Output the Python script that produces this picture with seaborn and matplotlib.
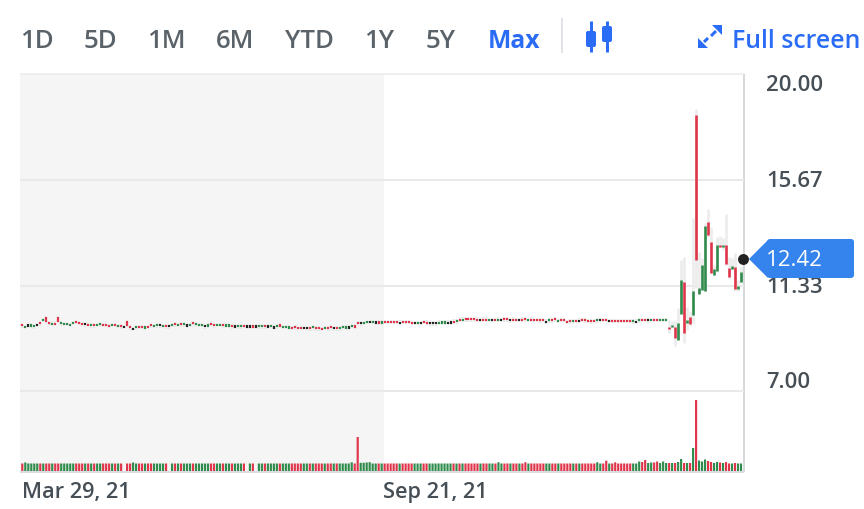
import matplotlib
matplotlib.use("Agg")
import matplotlib.pyplot as plt
from matplotlib.patches import FancyBboxPatch, Polygon
import pandas as pd
import seaborn as sns

range_labels = ["1D", "5D", "1M", "6M", "YTD", "1Y", "5Y", "Max"]
date_labels = ["Mar 29, 21", "Sep 21, 21"]
date_index = [0, 120.7]
y_labels = ["20.00", "15.67", "11.33", "7.00"]
y_values = [20.00, 15.67, 11.33, 7.00]
last_price = 12.42

# body centre of the quiet candles, one row per ten sessions
flat_mid = [
    9.71, 9.64, 9.70, 9.70, 9.67, 9.73, 9.79, 9.93, 9.96, 9.79,
    9.78, 9.78, 9.94, 9.79, 9.77, 9.77, 9.73, 9.81, 9.85, 9.81,
    9.77, 9.75, 9.74, 9.71, 9.71, 9.73, 9.75, 9.73, 9.73, 9.68,
    9.73, 9.73, 9.68, 9.67, 9.64, 9.79, 9.63, 9.56, 9.63, 9.64,
    9.64, 9.62, 9.64, 9.71, 9.68, 9.71, 9.71, 9.68, 9.67, 9.67,
    9.73, 9.75, 9.73, 9.75, 9.75, 9.70, 9.73, 9.79, 9.75, 9.73,
    9.73, 9.67, 9.70, 9.78, 9.71, 9.73, 9.73, 9.71, 9.70, 9.70,
    9.67, 9.66, 9.67, 9.67, 9.68, 9.66, 9.66, 9.66, 9.66, 9.67,
    9.67, 9.67, 9.66, 9.68, 9.62, 9.67, 9.70, 9.64, 9.64, 9.62,
    9.60, 9.63, 9.60, 9.60, 9.60, 9.59, 9.59, 9.63, 9.59, 9.59,
    9.56, 9.60, 9.59, 9.63, 9.59, 9.59, 9.59, 9.63, 9.62, 9.62,
    9.68, 9.66, 9.81, 9.79, 9.81, 9.85, 9.85, 9.85, 9.83, 9.83,
    9.83, 9.85, 9.85, 9.85, 9.85, 9.85, 9.82, 9.85, 9.85, 9.85,
    9.81, 9.81, 9.81, 9.81, 9.85, 9.82, 9.79, 9.79, 9.79, 9.82,
    9.83, 9.83, 9.82, 9.83, 9.86, 9.88, 9.94, 9.94, 9.96, 9.96,
    9.96, 9.96, 9.94, 9.93, 9.94, 9.94, 9.93, 9.92, 9.93, 9.94,
    9.93, 9.96, 9.96, 9.92, 9.94, 9.93, 9.93, 9.94, 9.96, 9.93,
    9.94, 9.93, 9.93, 9.92, 9.93, 9.86, 9.92, 9.92, 9.96, 9.89,
    9.93, 9.93, 9.85, 9.88, 9.88, 9.89, 9.90, 9.93, 9.92, 9.89,
    9.88, 9.89, 9.92, 9.93, 9.93, 9.93, 9.89, 9.89, 9.89, 9.89,
    9.89, 9.89, 9.89, 9.89, 9.88, 9.86, 9.92, 9.93, 9.93, 9.92,
    9.93, 9.93, 9.93, 9.93, 9.93, 9.93,
]
# r = falling, g = rising, k = unchanged
flat_dir = (
    "rgkggkrgrr" "grrgggggrr" "rkrgrggrrr" "grgrkrrkgr" "rgrrggkgrk" "grgrgkgrgg"
    "gkgrrggrgg" "rkggrkkrkg" "grkgkgrggg" "rrrrkkrgrr" "rgrrkrgggk" "grrkggkgkr"
    "grrrrrkrrr" "rkgkrrkkkg" "ggkkrgrgrr" "rrrkrrgkrg" "krrkrrkrrg" "rrrrrkgrrg"
    "rrrrgrkrrr" "rrgkrrkrrr" "rrrrgkgrrk" "grrggg"
)
flat_span = 0.09
flat_tall = {8: 0.20, 12: 0.19, 35: 0.20}

tail_open = [9.66, 9.63, 9.63, 9.11, 10.18, 11.49, 9.82, 10.04, 10.14, 18.35, 11.00, 11.14, 11.10,
             13.94, 13.14, 11.78, 11.94, 12.99, 12.90, 12.99, 12.05, 12.01, 12.09, 11.19, 11.50]
tail_close = [9.56, 9.73, 9.18, 9.80, 11.55, 9.39, 9.93, 9.76, 11.10, 12.37, 11.22, 12.19, 13.79,
              13.40, 11.87, 12.01, 12.99, 12.90, 12.99, 12.22, 11.68, 12.15, 11.19, 11.34, 11.89]
tail_high = [9.91, 9.87, 9.87, 10.41, 12.39, 12.53, 10.48, 10.28, 14.10, 18.57, 12.73, 12.46, 13.90,
             14.47, 13.76, 12.19, 13.35, 13.38, 13.28, 14.26, 12.50, 12.46, 12.67, 11.57, 12.12]
tail_low = [9.39, 9.60, 8.88, 9.11, 10.18, 8.98, 9.50, 9.74, 9.80, 11.23, 11.00, 11.14, 11.10,
            13.35, 11.85, 11.78, 11.91, 12.90, 12.80, 12.19, 11.64, 11.98, 11.10, 11.10, 11.44]

volume = [
    8.5, 9.5, 8.5, 8.5, 8.5, 8.5, 8.5, 8.5, 8.5, 8.5,
    8.5, 8.5, 8.5, 8.5, 8.5, 8.5, 8.5, 8.5, 8.5, 8.5,
    8.5, 8.5, 8.5, 8.5, 8.5, 8.5, 8.5, 8.5, 8.5, 8.5,
    8.5, 8.5, 8.5, 8.5, 0, 8.5, 8.5, 9.5, 8.5, 8.5,
    8.5, 8.5, 8.5, 8.5, 8.5, 8.5, 8.5, 8.5, 8.5, 0,
    8.5, 8.5, 8.5, 8.5, 8.5, 8.5, 8.5, 8.5, 8.5, 8.5,
    8.5, 8.5, 8.5, 8.5, 8.5, 8.5, 8.5, 8.5, 8.5, 8.5,
    8.5, 8.5, 8.5, 8.5, 8.5, 0, 8.5, 8.5, 0, 8.5,
    8.5, 8.5, 8.5, 8.5, 8.5, 8.5, 8.5, 8.5, 8.5, 8.5,
    8.5, 8.5, 8.5, 8.5, 8.5, 8.5, 8.5, 8.5, 8.5, 8.5,
    8.5, 8.5, 8.5, 8.5, 8.5, 8.5, 8.5, 8.5, 8.5, 8.5,
    9.7, 8.5, 35, 9.2, 9.2, 9.5, 9.8, 8.5, 8.5, 8.5,
    8.5, 8.5, 8.5, 8.5, 8.5, 8.5, 8.5, 8.5, 8.5, 8.5,
    8.5, 8.5, 8.5, 8.5, 8.5, 8.5, 8.5, 8.5, 8.5, 8.5,
    8.5, 8.5, 8.5, 8.5, 8.5, 8.5, 8.5, 8.5, 8.5, 8.5,
    8.5, 8.5, 8.5, 8.5, 8.5, 8.5, 8.5, 8.5, 8.5, 9.7,
    8.5, 8.5, 8.5, 8.5, 8.5, 8.5, 8.5, 8.5, 9.7, 8.5,
    8.5, 8.5, 8.5, 8.5, 8.5, 8.5, 8.5, 8.5, 8.5, 8.5,
    8.5, 8.5, 8.5, 8.5, 8.5, 8.5, 8.5, 8.5, 8.5, 8.5,
    8.5, 8.5, 9.7, 8.5, 8.5, 11.3, 8.5, 8.5, 9.7, 8.5,
    8.5, 8.5, 8.5, 8.5, 8.5, 8.5, 10.5, 10, 12, 9,
    9.5, 9.5, 10.5, 9, 10.5, 9, 9, 9, 9, 10,
    13, 9, 9, 9, 24, 72, 11.5, 10.5, 12.5, 11,
    10, 9, 10, 9.5, 9, 10, 8.5, 8.5, 9, 8.5,
    8.5,
]

RED, GREEN, DOJI = "#e0344a", "#2f8b4b", "#222222"
TEXT, BLUE = "#464e56", "#2b6cf6"
PX = 72 / 100

sns.set_theme(style="white")
plt.rcParams["font.family"] = ["Open Sans", "DejaVu Sans"]

fig = plt.figure(figsize=(8.64, 5.10), dpi=100)
rect = [20 / 864, 1 - 473 / 510, 724 / 864, 398 / 510]

# volume panel, shading and grid sit at the back
all_dir = list(flat_dir) + ["g" if c >= o else "r" for o, c in zip(tail_open, tail_close)]
vol_df = pd.DataFrame({
    "session": range(len(volume)),
    "volume": volume,
    "side": ["g" if d == "k" else d for d in all_dir],
})
ax_vol = fig.add_axes(rect, zorder=1)
sns.barplot(data=vol_df, x="session", y="volume", hue="side", native_scale=True, dodge=False,
            palette={"r": RED, "g": GREEN}, width=0.72, saturation=1, legend=False, ax=ax_vol, lw=0)
for p in ax_vol.patches:
    p.set_snap(False)
    p.set_zorder(3)
ax_vol.set_xlim(-0.77, 241)
ax_vol.set_ylim(0, 398)
ax_vol.axis("off")
ax_vol.axvspan(-0.77, date_index[1], color="#f5f5f5", lw=0, zorder=0)
ax_vol.vlines([1], 0, 1, transform=ax_vol.transAxes, color="#d5d9de", lw=2 * PX, clip_on=False, zorder=4)
ax_vol.hlines([0], 0, 1, transform=ax_vol.transAxes, color="#d9dce0", lw=2 * PX, clip_on=False, zorder=4)

ax = fig.add_axes(rect, facecolor="none", zorder=2)
ax.set_xlim(-0.77, 241)
ax.set_ylim(3.70, 20.01)
ax.axis("off")
ax.hlines(y_values[1:], 0, 1, transform=ax.get_yaxis_transform(), color="#e9e9e9", lw=1.5, zorder=1)
ax.hlines([20.01], 0, 1, transform=ax.get_yaxis_transform(), color="#ececec", lw=1.2, zorder=1, clip_on=False)

# candles
flat_x = list(range(len(flat_mid)))
flat_half = [flat_tall.get(i, flat_span) / 2 for i in flat_x]
flat_colors = [{"r": RED, "g": GREEN, "k": DOJI}[d] for d in flat_dir]
ax.vlines(flat_x, [m - h - 0.05 for m, h in zip(flat_mid, flat_half)],
          [m + h + 0.05 for m, h in zip(flat_mid, flat_half)],
          color="#e6e6e6", lw=2.4 * PX, zorder=2)
ax.vlines(flat_x, [m - h for m, h in zip(flat_mid, flat_half)],
          [m + h for m, h in zip(flat_mid, flat_half)],
          color=flat_colors, lw=2.2 * PX, zorder=3)

tail_x = [len(flat_mid) + i for i in range(len(tail_open))]
tail_colors = [GREEN if c >= o else RED for o, c in zip(tail_open, tail_close)]
ax.vlines(tail_x, tail_low, tail_high, color="#ececec", lw=2.6 * PX, zorder=2)
ax.vlines(tail_x, tail_open, tail_close, color=tail_colors, lw=2.6 * PX, zorder=3)

sns.scatterplot(x=[240.7], y=[last_price], ax=ax, color="#222222", s=62, linewidth=0,
                zorder=6, clip_on=False, legend=False)
ax.set_xlim(-0.77, 241)
ax.set_ylim(3.70, 20.01)
ax.axis("off")

# overlay for toolbar, labels and price tag
top = fig.add_axes([0, 0, 1, 1], facecolor="none", zorder=3)
top.set_xlim(0, 864)
top.set_ylim(510, 0)
top.axis("off")

label_offset = [10, 0, 0, -11]
for lab, val, off in zip(y_labels, y_values, label_offset):
    py = 180 + (15.67 - val) * 24.4 + off
    top.text(766, py + 7, lab, color=TEXT, fontsize=15.9, va="baseline", ha="left", fontweight="semibold")

top.add_patch(FancyBboxPatch((769, 242), 83, 35, boxstyle="round,pad=2,rounding_size=3",
                             fc="#3584ed", ec="none", zorder=7))
top.add_patch(Polygon([(749, 260), (768, 241), (768, 279)], fc="#3584ed", ec="none", zorder=7))
top.text(766, 266, f"{last_price:.2f}", color="white", fontsize=16, va="baseline", ha="left", zorder=8,
         fontweight="medium")

for lab, idx in zip(date_labels, date_index):
    px = 19.5 + (idx + 0.77) * 724 / 241.77
    top.text(px, 498, lab, color=TEXT, fontsize=15.7, va="baseline", ha="left", fontweight="semibold")

range_x = [20, 84, 147, 216, 285, 364, 426, 488]
for lab, x in zip(range_labels, range_x):
    active = lab == "Max"
    top.text(x, 48, lab, color=BLUE if active else "#5b636a", fontsize=17.8 if active else 18.6,
             va="baseline", ha="left", fontweight="bold" if active else "semibold")

top.vlines([562], 19, 54, color="#e0e4e8", lw=2 * PX)
for cx, b0, b1 in [(591, 32, 48), (607, 27, 43)]:
    top.vlines([cx], 22, 53, color=BLUE, lw=3 * PX)
    top.add_patch(FancyBboxPatch((cx - 4, b0 + 1), 8, b1 - b0 - 2, boxstyle="round,pad=1,rounding_size=2",
                                 fc=BLUE, ec="none"))
top.add_patch(Polygon([(722, 26), (712, 26), (722, 36)], fc=BLUE, ec="none"))
top.add_patch(Polygon([(698, 49), (708, 49), (698, 39)], fc=BLUE, ec="none"))
top.plot([716, 711], [32, 37], color=BLUE, lw=3 * PX, solid_capstyle="butt")
top.plot([704, 708], [43, 39], color=BLUE, lw=3 * PX, solid_capstyle="butt")
top.set_xlim(0, 864)
top.set_ylim(510, 0)
top.text(732, 48, "Full screen", color=BLUE, fontsize=17.9, va="baseline", ha="left", fontweight="semibold")

fig.savefig("out.png", dpi=100)
